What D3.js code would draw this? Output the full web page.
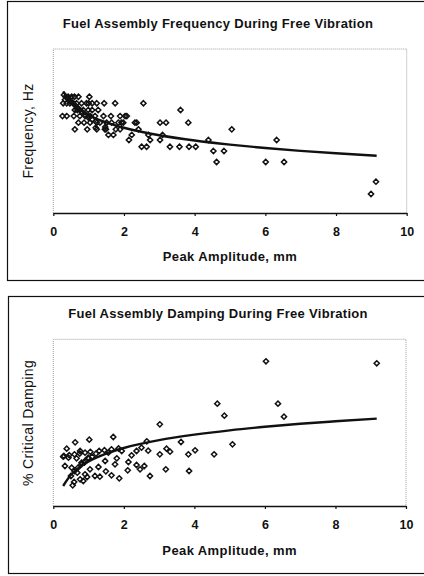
<!DOCTYPE html>
<html>
<head>
<meta charset="utf-8">
<script src="https://cdn.jsdelivr.net/npm/d3@7"></script>
<style>
  body { margin: 0; background: #fff; }
  svg { display: block; font-family: "Liberation Sans", Arial, sans-serif; }
</style>
</head>
<body>
<div class="container"></div>
<script>
// x ticks shared by both panels
const xTicks = [0, 2, 4, 6, 8, 10];

// frequency panel, y is unlabelled in the original so units are arbitrary (0-10)
const freqPoints = [
    [0.35, 7.09], [0.42, 7.09], [0.52, 7.09], [0.6, 7.09], [0.71, 7.09], [1.02, 7.09],
    [0.28, 6.69], [0.38, 6.69], [0.47, 6.69], [0.57, 6.69], [0.66, 6.69], [0.8, 6.69], [0.94, 6.69],
    [1.0, 6.69], [1.1, 6.69], [1.23, 6.69], [1.44, 6.69], [1.75, 6.69], [2.55, 6.69],
    [0.61, 6.28], [0.68, 6.28], [0.75, 6.28], [0.85, 6.28], [0.99, 6.28], [1.1, 6.28], [1.27, 6.28], [3.6, 6.28],
    [0.26, 5.91], [0.38, 5.91], [0.58, 5.91], [0.75, 5.91], [0.9, 5.91], [1.0, 5.91], [1.05, 5.91],
    [1.18, 5.91], [1.42, 5.91], [1.63, 5.91], [1.89, 5.91], [2.03, 5.91], [2.08, 5.91],
    [0.71, 5.51], [0.87, 5.51], [1.04, 5.51], [1.23, 5.51], [1.32, 5.51], [1.51, 5.51], [1.65, 5.51],
    [1.84, 5.51], [1.93, 5.51], [1.98, 5.51], [2.31, 5.51], [2.36, 5.51], [3.02, 5.51], [3.19, 5.51], [3.82, 5.51],
    [0.61, 5.10], [0.96, 5.10], [1.23, 5.10], [1.46, 5.10], [1.49, 5.10], [1.77, 5.10], [1.89, 5.10], [2.41, 5.10], [5.05, 5.10],
    [1.56, 4.76], [1.7, 4.76], [2.22, 4.76], [2.69, 4.76], [3.09, 4.76],
    [2.14, 4.45], [2.74, 4.45], [3.02, 4.45], [4.39, 4.45], [6.32, 4.45],
    [2.5, 4.04], [2.64, 4.04], [3.3, 4.04], [3.57, 4.04], [3.84, 4.04], [4.03, 4.04],
    [4.53, 3.78], [4.83, 3.78],
    [4.62, 3.11], [6.01, 3.11], [6.53, 3.11],
    [9.13, 1.91], [8.99, 1.16],
    // dense cluster along the start of the trend
    [0.3, 7.2], [0.4, 7.0], [0.5, 6.8], [0.6, 6.6], [0.7, 6.4], [0.8, 6.2], [0.9, 6.0],
    [1.0, 5.8], [1.1, 5.7], [1.2, 5.6], [1.2, 5.2], [1.47, 5.25], [0.33, 6.9], [0.45, 6.9]
];
const freqTrend = [
    [0.28, 7.42], [0.5, 6.76], [0.75, 6.31], [1, 5.98], [1.5, 5.53], [2, 5.20], [3, 4.74],
    [4, 4.42], [5, 4.17], [6, 3.96], [7, 3.79], [8, 3.64], [9.15, 3.49]
];

// damping panel
const dampPoints = [
    [6.03, 8.68], [9.17, 8.56], [4.65, 6.14], [6.37, 6.14], [4.85, 5.42], [6.54, 5.36],
    [3.02, 4.9], [1.7, 4.14], [1.02, 3.98], [0.62, 3.82], [2.65, 3.88], [3.62, 3.84], [5.08, 3.7],
    [0.38, 3.44], [0.76, 3.3], [2.69, 3.32], [3.21, 3.44], [3.31, 3.26], [4.02, 3.34],
    [3.83, 3.1], [4.56, 3.1], [3.02, 3.1], [0.28, 2.96], [0.43, 2.9], [0.66, 2.86], [0.99, 2.9],
    [1.21, 3.14], [1.56, 3.2], [1.8, 2.86], [1.94, 3.3], [2.22, 3.04], [2.36, 3.3], [2.5, 3.5],
    [1.47, 2.7], [0.33, 2.4], [0.52, 2.3], [0.88, 2.6], [1.28, 2.34], [1.75, 2.5], [2.13, 2.64],
    [2.36, 2.46], [2.46, 2.2], [2.58, 2.4], [2.11, 2.14], [3.19, 2.2], [3.85, 2.1], [1.49, 2.08],
    [1.18, 1.8], [1.32, 1.76], [1.65, 1.84], [1.87, 1.66], [2.74, 1.8], [0.68, 2.0], [0.9, 1.9],
    [0.76, 1.6], [0.96, 1.74], [0.85, 1.5], [0.59, 1.44], [0.55, 1.24], [0.8, 2.6], [1.04, 2.2],
    // dense bands in the lower-left cluster
    [0.3, 3.0], [0.45, 3.05], [0.6, 3.1], [0.75, 3.15], [0.9, 3.2], [1.05, 3.25], [1.3, 3.3],
    [1.45, 3.35], [1.65, 3.4], [1.85, 3.45],
    [0.5, 1.8], [0.6, 2.1], [0.7, 2.3], [0.8, 2.5], [0.9, 2.7], [1.0, 2.85], [1.1, 2.95]
];
const dampTrend = [
    [0.28, 1.2], [0.5, 1.87], [0.75, 2.34], [1, 2.67], [1.5, 3.14], [2, 3.48], [3, 3.95],
    [4, 4.28], [5, 4.54], [6, 4.75], [7, 4.93], [8, 5.08], [9.17, 5.24]
];

const w = 424, h = 576;

const svg = d3.select('.container')
    .append('svg')
    .attr('width', w)
    .attr('height', h);

// open diamond, square turned 45 degrees like the excel marker
const diamond = r => `M0,${-r}L${r},0L0,${r}L${-r},0Z`;

function drawPanel(opts) {
    const {frame, plot, title, titleY, yLabel, points, trend} = opts;

    svg.append('rect')
        .attr('x', frame.x + 0.5)
        .attr('y', frame.y + 0.5)
        .attr('width', frame.w)
        .attr('height', frame.h)
        .attr('fill', 'none')
        .attr('stroke', '#111')
        .attr('stroke-width', 1.2);

    svg.append('text')
        .attr('x', 218)
        .attr('y', titleY)
        .attr('text-anchor', 'middle')
        .attr('font-size', 13)
        .attr('font-weight', 'bold')
        .attr('letter-spacing', 0.3)
        .attr('fill', '#111')
        .text(title);

    const x = d3.scaleLinear().domain([0, 10]).range([plot.x, plot.x + plot.w]);
    const y = d3.scaleLinear().domain([0, 10]).range([plot.y + plot.h, plot.y]);

    // dotted plot area border
    svg.append('path')
        .attr('d', `M${plot.x},${plot.y + plot.h}V${plot.y}H${plot.x + plot.w}V${plot.y + plot.h}`)
        .attr('fill', 'none')
        .attr('stroke', '#888')
        .attr('stroke-width', 0.8)
        .attr('stroke-dasharray', '1,1');

    const axis = d3.axisBottom(x)
        .tickValues(xTicks)
        .tickFormat(d3.format('d'))
        .tickSizeInner(3)
        .tickSizeOuter(0)
        .tickPadding(11);

    svg.append('g')
        .attr('transform', `translate(0,${plot.y + plot.h})`)
        .call(axis)
        .call(g => g.select('.domain').attr('stroke', '#111').attr('stroke-width', 1.3))
        .call(g => g.selectAll('.tick line').attr('stroke', '#111').attr('stroke-width', 1.2))
        .call(g => g.selectAll('.tick text')
            .attr('font-size', 12.5)
            .attr('font-weight', 'bold')
            .attr('font-family', '"Liberation Sans", Arial, sans-serif')
            .attr('fill', '#111'));

    svg.append('text')
        .attr('x', (x(0) + x(10)) / 2)
        .attr('y', plot.y + plot.h + opts.xLabelDy)
        .attr('text-anchor', 'middle')
        .attr('font-size', 13)
        .attr('letter-spacing', 0.4)
        .attr('fill', '#111')
        .attr('font-weight', 'bold')
        .text('Peak Amplitude, mm');

    svg.append('text')
        .attr('transform', `translate(33,${opts.yLabelCy}) rotate(-90)`)
        .attr('text-anchor', 'middle')
        .attr('font-size', 14)
        .attr('letter-spacing', 0.4)
        .attr('fill', '#111')
        .text(yLabel);

    svg.append('g')
        .selectAll('path')
        .data(points)
        .enter()
        .append('path')
        .attr('transform', d => `translate(${x(d[0])},${y(d[1])})`)
        .attr('d', diamond(2.6))
        .attr('fill', 'none')
        .attr('stroke', '#111')
        .attr('stroke-width', 1.5);

    const line = d3.line()
        .x(d => x(d[0]))
        .y(d => y(d[1]))
        .curve(d3.curveMonotoneX);

    svg.append('path')
        .attr('d', line(trend))
        .attr('fill', 'none')
        .attr('stroke', '#111')
        .attr('stroke-width', 2.4);
}

drawPanel({
    frame: {x: 7, y: 1, w: 430, h: 279},
    plot: {x: 53.3, y: 49, w: 353.4, h: 164},
    title: 'Fuel Assembly Frequency During Free Vibration',
    titleY: 28,
    yLabel: 'Frequency, Hz',
    yLabelCy: 131,
    xLabelDy: 48,
    points: freqPoints,
    trend: freqTrend
});

drawPanel({
    frame: {x: 8, y: 296, w: 430, h: 277},
    plot: {x: 53.3, y: 339.3, w: 352.7, h: 166.7},
    title: 'Fuel Assembly Damping During Free Vibration',
    titleY: 318,
    yLabel: '% Critical Damping',
    yLabelCy: 423,
    xLabelDy: 49,
    points: dampPoints,
    trend: dampTrend
});
</script>
</body>
</html>
